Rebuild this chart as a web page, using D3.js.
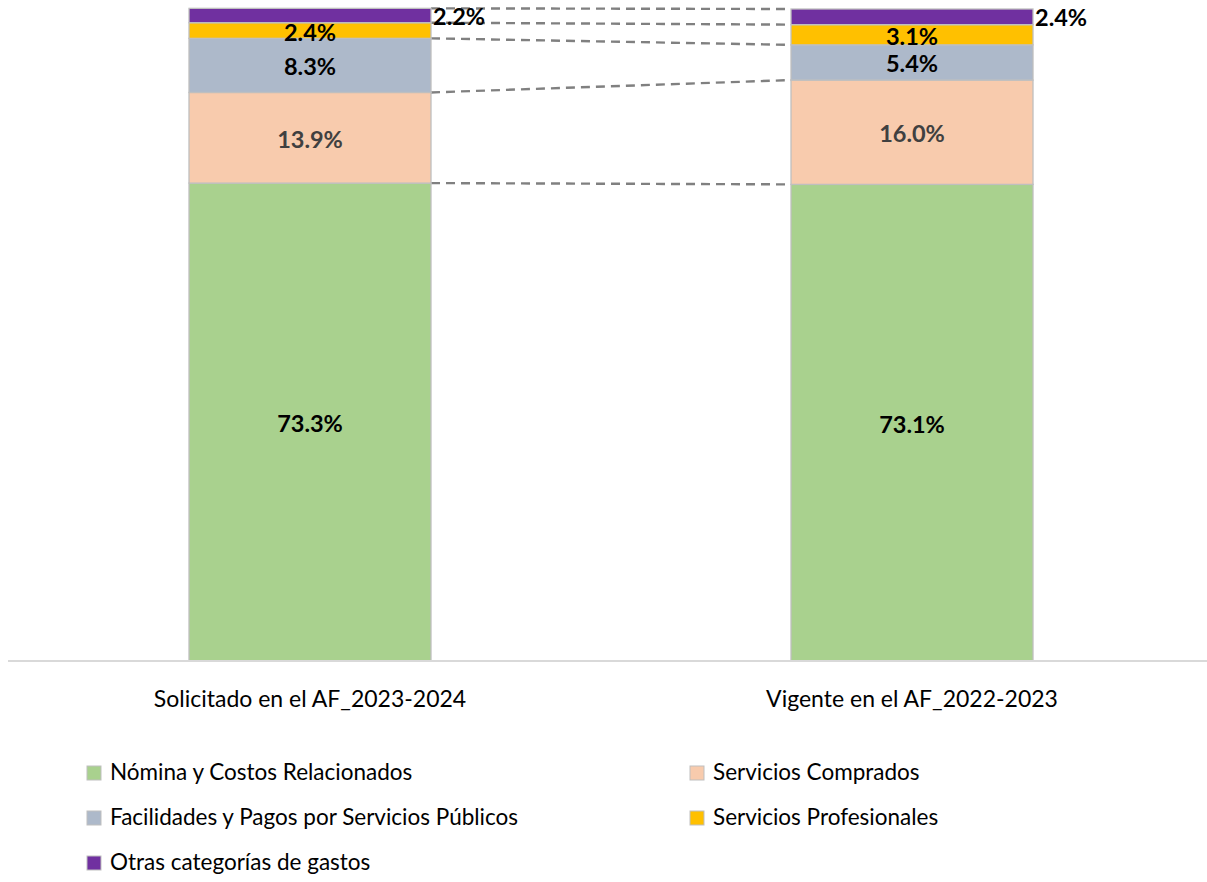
<!DOCTYPE html>
<html><head><meta charset="utf-8">
<script src="https://cdn.jsdelivr.net/npm/d3@7"></script>
<style>body{margin:0;background:#fff}svg{display:block;font-family:Lato,"Open Sans",sans-serif}</style>
</head><body><svg id="c" width="1207" height="882"></svg>
<script>
const categories = ["Solicitado en el AF_2023-2024", "Vigente en el AF_2022-2023"];
const seriesNames = ["Nómina y Costos Relacionados", "Servicios Comprados", "Facilidades y Pagos por Servicios Públicos", "Servicios Profesionales", "Otras categorías de gastos"];
const nomina = [73.3, 73.1];
const comprados = [13.9, 16.0];
const facilidades = [8.3, 5.4];
const profesionales = [2.4, 3.1];
const otras = [2.2, 2.4];
const colors = ["#a9d18e", "#f8cbad", "#adb9ca", "#ffc000", "#7030a0"];
const labelColors = ["#000", "#404040", "#000", "#000", "#000"];

const seriesValues = [nomina, comprados, facilidades, profesionales, otras];
const data = categories.map((c, i) => {
  const o = {cat: c};
  seriesNames.forEach((s, j) => o[s] = seriesValues[j][i]);
  return o;
});
const stack = d3.stack().keys(seriesNames)(data);

const svg = d3.select("#c");
const x = d3.scaleBand().domain(categories).range([9, 1213]).paddingInner(0.598).paddingOuter(0.299);
const y = d3.scaleLinear().domain([0, 100]).range([661, 9]);

// connectors
const bw = x.bandwidth();
const conn = svg.append("g");
stack.forEach((layer, j) => {
  conn.append("line")
    .attr("x1", x(categories[0]) + bw).attr("y1", y(layer[0][1]))
    .attr("x2", x(categories[1])).attr("y2", y(layer[1][1]))
    .attr("stroke", "#808080").attr("stroke-width", 2.4).attr("stroke-dasharray", "9,6");
});

// bars
stack.forEach((layer, j) => {
  svg.append("g").selectAll("rect").data(layer).join("rect")
    .attr("x", d => x(d.data.cat)).attr("width", bw)
    .attr("y", d => y(d[1])).attr("height", d => y(d[0]) - y(d[1]))
    .attr("fill", colors[j]).attr("stroke", "#bfbfbf").attr("stroke-width", 1.3);
});

// labels
stack.forEach((layer, j) => {
  svg.append("g").selectAll("text").data(layer).join("text")
    .attr("x", d => j === 4 ? x(d.data.cat) + bw + 2 : x(d.data.cat) + bw / 2)
    .attr("y", d => j === 4 ? y(d[1]) + 11 : (y(d[0]) + y(d[1])) / 2 + 4)
    .attr("text-anchor", j === 4 ? "start" : "middle")
    .attr("dominant-baseline", "middle")
    .attr("font-size", 23.5).attr("font-weight", "bold")
    .attr("fill", labelColors[j])
    .text(d => (d[1] - d[0]).toFixed(1) + "%");
});

// axis
const xAxis = svg.append("g").attr("transform", "translate(0,661)").call(d3.axisBottom(x).tickSize(0).tickPadding(30));
xAxis.select(".domain").attr("stroke", "#d9d9d9").attr("stroke-width", 2).attr("d", "M8,0H1207");
xAxis.selectAll("text").attr("font-size", 23).attr("fill", "#000").attr("font-family", "Lato,'Open Sans',sans-serif");

// legend
const legPos = [[87, 773], [690, 773], [87, 818], [690, 818], [87, 863]];
const leg = svg.append("g").selectAll("g").data(seriesNames).join("g")
  .attr("transform", (d, i) => `translate(${legPos[i][0]},${legPos[i][1]})`);
leg.append("rect").attr("x", 0).attr("y", -7).attr("width", 14).attr("height", 14)
  .attr("fill", (d, i) => colors[i]).attr("stroke", "#bfbfbf").attr("stroke-width", 1);
leg.append("text").attr("x", 23).attr("y", 1).attr("dominant-baseline", "middle")
  .attr("font-size", 22.5).attr("fill", "#000").text(d => d);
</script></body></html>
